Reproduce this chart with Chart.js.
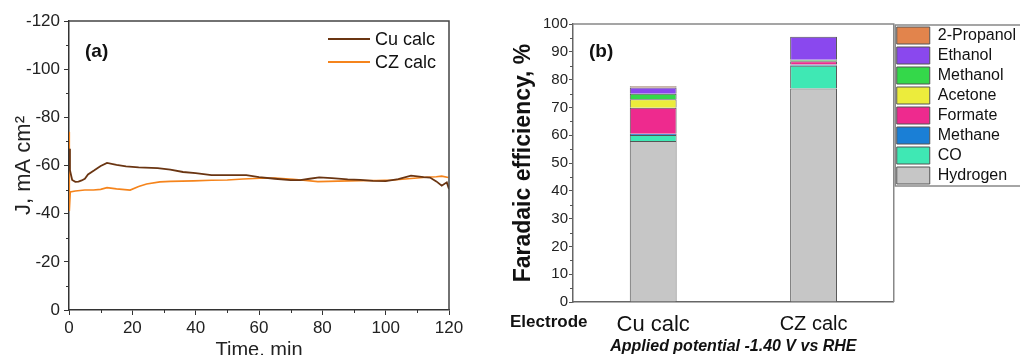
<!DOCTYPE html>
<html lang="en">
<head>
<meta charset="UTF-8" />
<title>Current density and Faradaic efficiency</title>
<script src="https://cdn.jsdelivr.net/npm/chart.js"></script>
<style>
  html, body { margin: 0; padding: 0; background: #fff; overflow: hidden; width: 1020px; height: 355px; }
  #boxA { position: absolute; left: 0; top: 0; }
  #boxB { position: absolute; left: 500px; top: 0; }
</style>
</head>
<body>
<div id="boxA"><canvas id="chartA" width="470" height="380"></canvas></div>
<div id="boxB"><canvas id="chartB" width="525" height="380"></canvas></div>

<script>
// (a) chronoamperometry, time in min, J in mA cm-2
const tCu = [0, 0.3, 1, 2, 3, 4, 5, 6, 8, 10, 12, 15, 18, 22, 28, 32, 36, 40, 45, 50, 56, 60, 65, 70, 73, 76, 79, 83, 88, 92, 96, 100, 104, 108, 112, 114, 116, 117.7, 119.3, 120];
const jCu = [-67, -58, -54, -53.2, -53.3, -53.8, -54.5, -56.3, -58, -59.8, -61.1, -60.3, -59.6, -59.2, -58.9, -58.3, -57.3, -56.8, -56, -56, -56, -55.2, -54.5, -53.9, -53.9, -54.5, -55.1, -54.8, -54.2, -54, -53.6, -53.5, -54.3, -55.8, -55.2, -55, -53.4, -51.6, -53, -50.3];
const tCz = [0, 0.1, 0.4, 2, 5, 7.7, 10, 12, 15, 19.3, 22, 24.5, 28.7, 32, 39.3, 45, 50, 55, 60.3, 65, 70.8, 78.6, 85, 91.9, 97, 102.4, 108, 112.9, 116, 117.7, 119.8];
const jCz = [-74, -41, -49, -49.4, -49.8, -49.8, -50.1, -50.8, -50.3, -49.8, -51.3, -52.3, -53.2, -53.4, -53.6, -53.9, -54, -54.4, -54.7, -54.8, -54.3, -53.3, -53.5, -53.7, -53.8, -54, -54.6, -55.1, -55.3, -55.6, -55];

// (b) Faradaic efficiency, %
const electrodes = ["Cu calc", "CZ calc"];
const products = ["Hydrogen", "CO", "Methane", "Formate", "Acetone", "Methanol", "Ethanol", "2-Propanol"];
const feCu = [57.9, 2.2, 0.4, 9.4, 3.0, 2.0, 2.3, 0.4];
const feCz = [76.8, 8.2, 0.4, 1.2, 0.2, 0.3, 8.3, 0];
const productColors = ["#c6c6c6", "#3fe8b4", "#1a7fd6", "#ee2a8e", "#ecec3c", "#34d84a", "#8a48ee", "#e2844c"];

Chart.defaults.font.family = "'Liberation Sans', Arial, sans-serif";
Chart.defaults.color = "#222";

// short minor ticks + frame + loose texts
const extras = {
  id: "extras",
  afterDraw(chart, args, opts) {
    const ctx = chart.ctx;
    const area = chart.chartArea;
    ctx.save();
    (opts.minor || []).forEach((m) => {
      const s = chart.scales[m.id];
      ctx.strokeStyle = opts.axisColor;
      ctx.lineWidth = 1;
      for (let v = m.from; v <= m.to; v += m.step) {
        const p = Math.round(s.getPixelForValue(v)) + 0.5;
        ctx.beginPath();
        if (s.isHorizontal()) {
          ctx.moveTo(p, area.bottom);
          ctx.lineTo(p, area.bottom + m.len);
        } else {
          ctx.moveTo(area.left, p);
          ctx.lineTo(area.left - m.len, p);
        }
        ctx.stroke();
      }
    });
    // top and right frame
    ctx.strokeStyle = opts.frameColor;
    ctx.lineWidth = opts.frameWidth;
    ctx.beginPath();
    ctx.moveTo(area.left, area.top);
    ctx.lineTo(area.right, area.top);
    ctx.lineTo(area.right, area.bottom);
    ctx.stroke();
    // legend border (b)
    if (opts.legendBox && chart.legend && chart.legend.legendHitBoxes.length) {
      const hb = chart.legend.legendHitBoxes;
      const last = hb[hb.length - 1];
      ctx.strokeStyle = "#888";
      ctx.lineWidth = 1.5;
      ctx.strokeRect(area.right + 1.5, hb[0].top - 2, chart.width, last.top + last.height + 4 - hb[0].top);
    }
    (opts.texts || []).forEach((t) => {
      ctx.font = t.font;
      ctx.fillStyle = "#111";
      ctx.textAlign = "left";
      ctx.textBaseline = "middle";
      ctx.fillText(t.text, t.x, t.y);
    });
    ctx.restore();
  }
};

// inline legend for (a)
const lineLegend = {
  id: "lineLegend",
  afterDraw(chart) {
    const ctx = chart.ctx;
    ctx.save();
    chart.data.datasets.forEach((ds, i) => {
      const y = 39 + i * 23;
      ctx.strokeStyle = ds.borderColor;
      ctx.lineWidth = 2;
      ctx.beginPath();
      ctx.moveTo(328, y);
      ctx.lineTo(370, y);
      ctx.stroke();
      ctx.font = "18px 'Liberation Sans', Arial, sans-serif";
      ctx.fillStyle = "#111";
      ctx.textBaseline = "middle";
      ctx.fillText(ds.label, 375, y + 1);
    });
    ctx.restore();
  }
};

new Chart(document.getElementById("chartA"), {
  type: "line",
  data: {
    datasets: [
      {
        label: "Cu calc",
        data: tCu.map((t, i) => ({ x: t, y: jCu[i] })),
        borderColor: "#6a3512",
        borderWidth: 1.8,
        pointRadius: 0,
        tension: 0
      },
      {
        label: "CZ calc",
        data: tCz.map((t, i) => ({ x: t, y: jCz[i] })),
        borderColor: "#f5841c",
        borderWidth: 1.6,
        pointRadius: 0,
        tension: 0
      }
    ]
  },
  options: {
    responsive: false,
    animation: false,
    layout: { padding: { left: 0, top: 21, right: 21, bottom: 18 } },
    plugins: {
      legend: { display: false },
      tooltip: { enabled: false },
      extras: {
        axisColor: "#333",
        frameColor: "#444",
        frameWidth: 1.5,
        minor: [
          { id: "x", from: 10, to: 110, step: 20, len: 3 },
          { id: "y", from: -110, to: -10, step: 20, len: 3 }
        ],
        texts: [{ text: "(a)", x: 85, y: 52, font: "bold 19px 'Liberation Sans', Arial, sans-serif" }]
      }
    },
    scales: {
      x: {
        type: "linear",
        min: 0,
        max: 120,
        afterFit: (s) => { s.height = 52; },
        ticks: { stepSize: 20, font: { size: 17 }, padding: 3, color: "#222" },
        grid: { drawOnChartArea: false, tickLength: 5, color: "#333" },
        border: { color: "#333", width: 1.5 },
        title: { display: true, text: "Time, min", font: { size: 20 }, padding: { top: 0, bottom: 0 }, color: "#222" }
      },
      y: {
        type: "linear",
        min: -120,
        max: 0,
        reverse: true,
        afterFit: (s) => { s.width = 69; },
        ticks: { stepSize: 20, font: { size: 17 }, padding: 4, color: "#222" },
        grid: { drawOnChartArea: false, tickLength: 5, color: "#333" },
        border: { color: "#333", width: 1.5 },
        title: { display: true, text: "J, mA cm²", font: { size: 22 }, padding: { top: 11, bottom: 0 }, color: "#222" }
      }
    }
  },
  plugins: [extras, lineLegend]
});

new Chart(document.getElementById("chartB"), {
  type: "bar",
  data: {
    labels: electrodes,
    datasets: products.map((p, i) => ({
      label: p,
      data: [feCu[i], feCz[i]],
      backgroundColor: productColors[i],
      borderColor: "#555",
      borderWidth: 1,
      categoryPercentage: 1,
      barPercentage: 0.292
    }))
  },
  options: {
    responsive: false,
    animation: false,
    layout: { padding: { left: 0, top: 24, right: 0, bottom: 24 } },
    plugins: {
      tooltip: { enabled: false },
      legend: {
        position: "right",
        align: "start",
        reverse: true,
        labels: { boxWidth: 33, boxHeight: 17, padding: 3, font: { size: 16 }, color: "#111" }
      },
      extras: {
        axisColor: "#555",
        frameColor: "#888",
        frameWidth: 1.5,
        legendBox: true,
        minor: [{ id: "y", from: 5, to: 95, step: 10, len: 3 }],
        texts: [
          { text: "(b)", x: 89, y: 52, font: "bold 19px 'Liberation Sans', Arial, sans-serif" },
          { text: "Electrode", x: 10, y: 322, font: "bold 17px 'Liberation Sans', Arial, sans-serif" }
        ]
      }
    },
    scales: {
      x: {
        stacked: true,
        afterFit: (s) => { s.height = 54; },
        ticks: { font: (c) => ({ size: c.index === 0 ? 22 : 20 }), padding: 2, color: "#111" },
        grid: { display: false },
        border: { color: "#666", width: 1.5 },
        title: {
          display: true,
          text: "Applied potential -1.40 V vs RHE",
          font: { size: 16, weight: "bold", style: "italic" },
          padding: { top: 0, bottom: 0 },
          color: "#111"
        }
      },
      y: {
        stacked: true,
        min: 0,
        max: 100,
        afterFit: (s) => { s.width = 73; },
        ticks: { stepSize: 10, font: { size: 15 }, padding: 1, color: "#222" },
        grid: { drawOnChartArea: false, tickLength: 4, color: "#555" },
        border: { color: "#666", width: 1.5 },
        title: {
          display: true,
          text: "Faradaic efficiency, %",
          font: { size: 23, weight: "bold" },
          padding: { top: 10, bottom: 0 },
          color: "#111"
        }
      }
    }
  },
  plugins: [extras]
});
</script>
</body>
</html>
